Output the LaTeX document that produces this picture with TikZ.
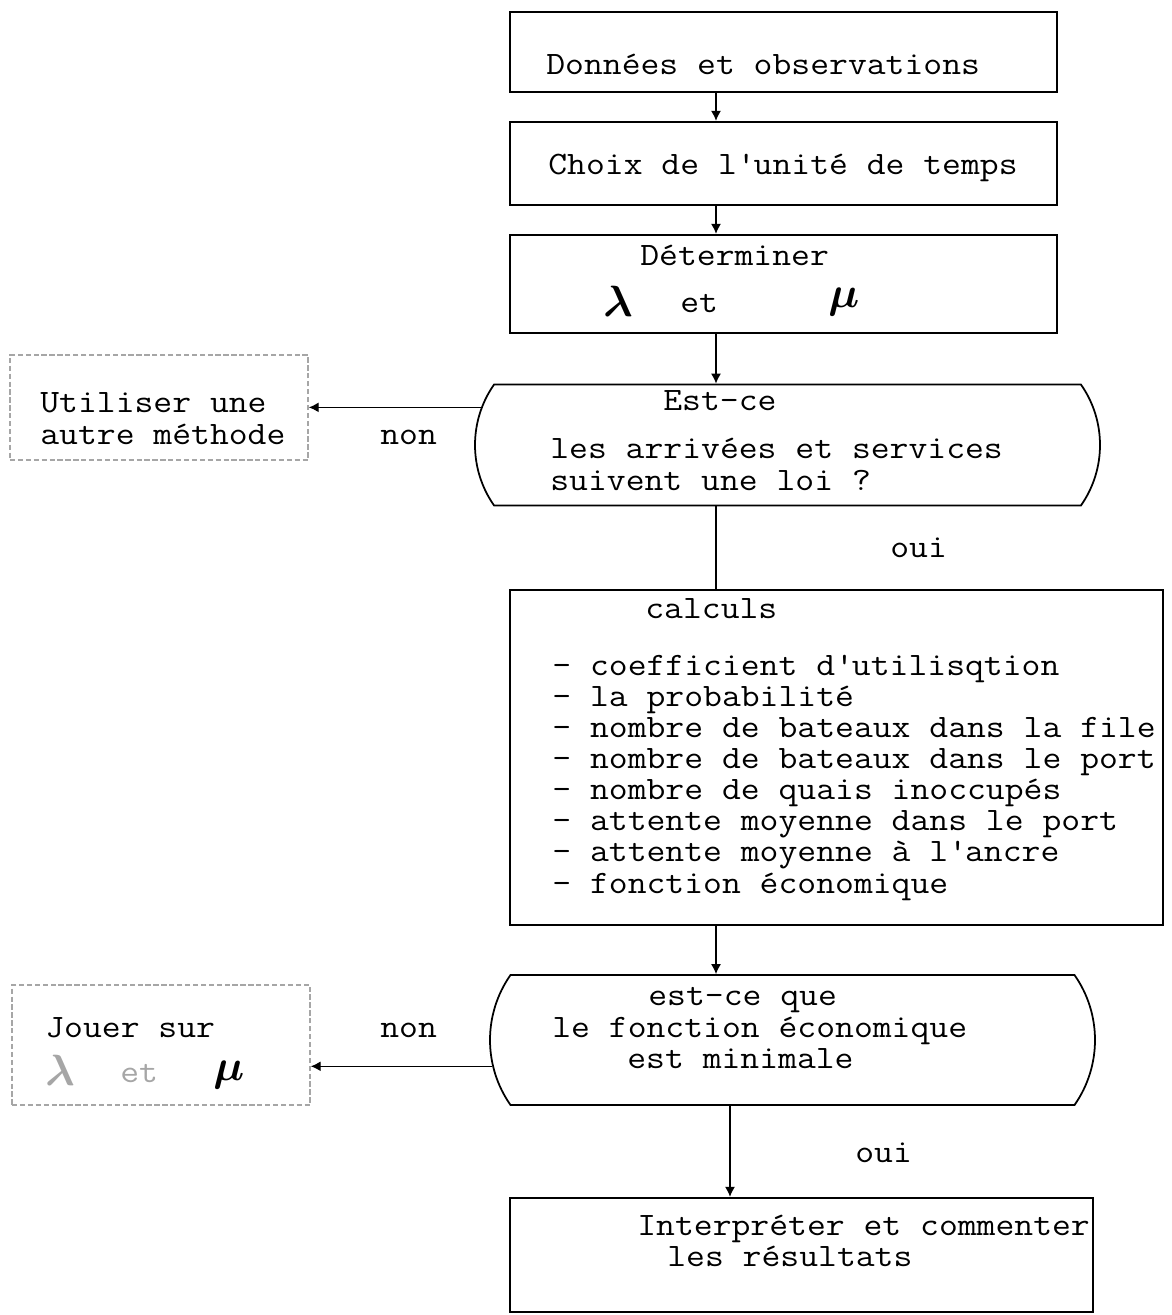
\documentclass[tikz,border=0pt]{standalone}
\usepackage{fontspec}
\setmonofont{Latin Modern Mono}[FakeStretch=1.12]
\usetikzlibrary{arrows.meta}
\usetikzlibrary{shapes.misc}
\tikzset{>={Latex[width=2mm,length=2mm]}}

\begin{document}
\begin{tikzpicture}[x=0.2mm,y=-0.2mm,
    box/.style={draw,line width=1.3pt,inner sep=0pt},
    decision/.style={draw,line width=1pt,rounded rectangle,rounded rectangle arc length=70,inner sep=0pt},
    aside/.style={draw=black!35,dash pattern=on 3pt off 1.5pt,line width=0.8pt,inner sep=0pt},
    txt/.style={anchor=base west,inner sep=0pt,align=left,
      font=\ttfamily\fontsize{18.6}{17.6}\selectfont},
    sym/.style={anchor=base west,inner sep=0pt,font=\fontsize{30}{30}\selectfont\boldmath}]

  \def\px{0.2mm}
  \def\ind#1{\hspace*{#1}}

  \useasboundingbox (0,0) rectangle (1172,1315);

  % boxes of the main column
  \node[box,minimum width=547*\px,minimum height=80*\px] (data) at (783.5,52) {};
  \node[box,minimum width=547*\px,minimum height=83*\px] (unit) at (783.5,163.5) {};
  \node[box,minimum width=547*\px,minimum height=98*\px] (rates) at (783.5,284) {};
  \node[decision,minimum width=625*\px,minimum height=121*\px] (law) at (787.5,445) {};
  \node[box,minimum width=653*\px,minimum height=335*\px] (calc) at (836.5,757.5) {};
  \node[decision,minimum width=605*\px,minimum height=130*\px] (cost) at (792.5,1040) {};
  \node[box,minimum width=583*\px,minimum height=114*\px] (result) at (801.5,1255) {};

  % side boxes
  \node[aside,minimum width=298*\px,minimum height=105*\px] (other) at (159,407.5) {};
  \node[aside,minimum width=298*\px,minimum height=120*\px] (tune) at (161,1045) {};

  \coordinate (spine) at (716,0);
  \coordinate (spinelow) at (730,0);

  \draw[thick,->] (data.south -| spine) -- (unit.north -| spine);
  \draw[thick,->] (unit.south -| spine) -- (rates.north -| spine);
  \draw[thick,->] (rates.south -| spine) -- (law.north -| spine);
  \draw[thick] (law.south -| spine) -- (calc.north -| spine);
  \draw[thick,->] (calc.south -| spine) -- (cost.north -| spine);
  \draw[thick,->] (cost.south -| spinelow) -- (result.north -| spinelow);

  \draw[thick,->] (law.173) -- (law.173 -| other.east);
  \draw[thick,->] (cost.185) -- (cost.185 -| tune.east);

  % texts (multi-line ones sit on their last line)
  \node[txt] (tdata) at (546,74) {Données et observations};
  \node[txt] (tunit) at (548,174) {Choix de l\textquotesingle unité de temps};
  \node[txt] (trates) at (640,265) {Déterminer};
  \node[sym] (lam) at (603,316) {$\lambda$};
  \node[txt] (tand) at (680,312) {et};
  \node[sym] (mu) at (828,307) {$\mu$};

  \node[txt] (tlaw) at (550,490) {\ind{22.6mm}Est-ce\\[3.4mm]
    les arrivées et services\\[0.2mm]suivent une loi ?};

  \node[txt] (tother) at (40,444) {Utiliser une\\[0.2mm]autre méthode};
  \node[txt] (nonA) at (380,444) {non};
  \node[txt] (ouiA) at (890,557) {oui};

  \node[txt] (tcalc) at (645,618) {calculs};
  \node[txt] (items) at (552,893) {- coefficient d\textquotesingle utilisqtion\\
    - la probabilité\\
    - nombre de bateaux dans la file\\
    - nombre de bateaux dans le port\\
    - nombre de quais inoccupés\\
    - attente moyenne dans le port\\
    - attente moyenne à l\textquotesingle ancre\\[0.2mm]
    - fonction économique};

  \node[txt] (tcost) at (552,1068) {\ind{19.2mm}est-ce que\\[0.2mm]
    le fonction économique\\
    \ind{15mm}est minimale};

  \node[txt] (ttune) at (45,1037) {Jouer sur};
  \node[sym,text=black!35] (lamb) at (45,1085) {$\lambda$};
  \node[txt,text=black!35] (tandb) at (120,1082) {et};
  \node[sym] (mub) at (213,1080) {$\mu$};
  \node[txt] (nonB) at (380,1037) {non};
  \node[txt] (ouiB) at (855,1162) {oui};

  \node[txt] (tresult) at (637,1266) {Interpréter et commenter\\
    \ind{6mm}les résultats};

\end{tikzpicture}
\end{document}
